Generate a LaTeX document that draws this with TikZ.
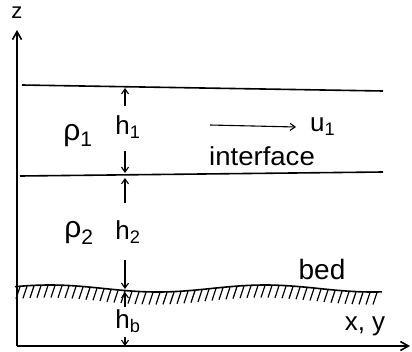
\documentclass[tikz,border=0pt]{standalone}
\usepackage{fontspec}
\setmainfont{Liberation Sans}
\usetikzlibrary{arrows.meta}
\begin{document}
\begin{tikzpicture}[x=1pt,y=-1pt,
  line/.style={line width=1.6pt},
  axis/.style={line width=1.6pt,-{Straight Barb[length=8pt,width=9pt]}},
  dim/.style={line width=1.1pt,-{Straight Barb[length=5pt,width=7pt]}},
  lab/.style={font=\fontsize{26}{28}\selectfont, inner sep=0pt},
  rho/.style={font=\fontsize{30}{32}\selectfont, inner sep=0pt},
  small/.style={font=\fontsize{22}{24}\selectfont, inner sep=0pt},
  declare function={bedf(\t)=288.5-3.5*cos((\t-50)*1.6744);}]
\useasboundingbox (0,0) rectangle (412,351);
% axes
\coordinate (O) at (17,346);
\coordinate (ztop) at (17,30);
\coordinate (xend) at (410,346);
\draw[axis] (O) -- (ztop);
\draw[axis] (O) -- (xend);
\node[small] (z) at (17,13) {z};
\node[lab] (xy) at (365,326) {x, y};
% surface and interface
\coordinate (s1) at (22,85);
\coordinate (s2) at (383,91);
\coordinate (i1) at (20,176);
\coordinate (i2) at (383,172);
\draw[line] (s1) -- (s2);
\draw[line] (i1) -- (i2);
% bed
\draw[line] plot[domain=15:382, samples=90, smooth] (\x,{bedf(\x)});
\foreach \t in {20,27,...,380}
  \draw[line width=1.2pt] (\t,{bedf(\t)+0.5}) -- ++(-4,12);
\node[lab] (bed) at (322,269) {\fontsize{28}{30}\selectfont bed};
% densities
\node[rho] (r1) at (78,136) {ρ\textsubscript{1}};
\node[rho] (r2) at (79,233) {ρ\textsubscript{2}};
% thicknesses
\node[lab] (h1) at (128,127) {h\textsubscript{1}};
\node[lab] (h2) at (128,232) {h\textsubscript{2}};
\node[lab] (hb) at (128,321) {h\textsubscript{b}};
\coordinate (a1) at (125,106); \coordinate (t1) at (125,88);
\coordinate (a2) at (125,151); \coordinate (t2) at (125,173);
\coordinate (a3) at (125,203); \coordinate (t3) at (125,178);
\coordinate (a4) at (125,260); \coordinate (t4) at (125,289);
\coordinate (a5) at (125,307); \coordinate (t5) at (125,292);
\coordinate (a6) at (125,337); \coordinate (t6) at (125,346);
\draw[dim] (a1) -- (t1);
\draw[dim] (a2) -- (t2);
\draw[dim] (a3) -- (t3);
\draw[dim] (a4) -- (t4);
\draw[dim] (a5) -- (t5);
\draw[dim] (a6) -- (t6);
% velocity
\coordinate (u0) at (210,125);
\node[lab,anchor=west] (u1) at (310,127) {u\textsubscript{1}};
\draw[dim] (u0) -- ([xshift=-14pt]u1.west);
% interface label
\node[lab] (ifc) at (262,156) {\scalebox{1.06}[1]{interface}};
\end{tikzpicture}
\end{document}
